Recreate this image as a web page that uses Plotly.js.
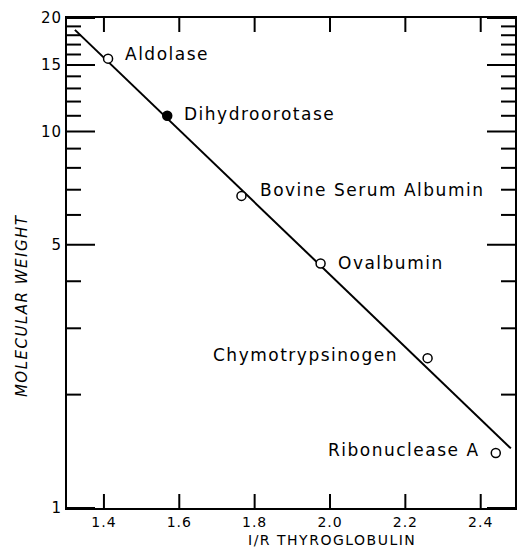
<!DOCTYPE html>
<html>
<head>
<meta charset="utf-8">
<script src="https://cdn.plot.ly/plotly-3.0.1.min.js"></script>
<style>
  html, body { margin: 0; padding: 0; background: #fff; }
  #chart { width: 518px; height: 550px; }
  .annotation-text { letter-spacing: 1.5px; }
  .xtick text, .ytick text { letter-spacing: 1px; }
</style>
</head>
<body>
<div id="chart"></div>
<script>
// Data
const proteins = ["Aldolase", "Dihydroorotase", "Bovine Serum Albumin", "Ovalbumin", "Chymotrypsinogen", "Ribonuclease A"];
const invR = [1.411, 1.568, 1.765, 1.975, 2.259, 2.440];
const molWeight = [15.6, 11.0, 6.74, 4.46, 2.50, 1.40];
const filled = [false, true, false, false, false, false];
const fitX = [1.323, 2.480];
const fitY = [18.6, 1.44];
const xTicks = [1.4, 1.6, 1.8, 2.0, 2.2, 2.4];
const xTickText = ["1.4", "1.6", "1.8", "2.0", "2.2", "2.4"];
const yTicks = [1, 5, 10, 15, 20];
const yTickText = ["1", "5", "10", "15", "20"];
const yMinorTicks = [2, 3, 4, 6, 7, 8, 9, 11, 12, 13, 14, 16, 17, 18, 19];

// label placement (pixel offsets)
const labelSide = ["left", "left", "left", "left", "right", "right"];
const labelDx = [15, 15, 17, 15, -28, -14];
const labelDy = [5, 2, 6, 0, 3, 3];

const font = "DejaVu Sans";
const xRange = [1.302, 2.491];
const yRange = [1, 20];

// inward tick marks drawn as clipped line markers sitting on the frame edges
function tickTrace(xs, ys, symbol, size) {
  return {
    x: xs, y: ys, mode: "markers", type: "scatter", cliponaxis: true,
    marker: { symbol: symbol, size: size, color: "#000", line: { color: "#000", width: 2 } },
    hoverinfo: "skip", showlegend: false
  };
}
const xEdgeTicks = tickTrace(
  xTicks.concat(xTicks),
  xTicks.map(() => yRange[0]).concat(xTicks.map(() => yRange[1])),
  "line-ns-open", 20);
const yMajorEdgeTicks = tickTrace(
  yTicks.map(() => xRange[0]).concat(yTicks.map(() => xRange[1])),
  yTicks.concat(yTicks), "line-ew-open", 40);
const yMinorEdgeTicks = tickTrace(
  yMinorTicks.map(() => xRange[0]).concat(yMinorTicks.map(() => xRange[1])),
  yMinorTicks.concat(yMinorTicks), "line-ew-open", 20);

const traces = [
  xEdgeTicks, yMajorEdgeTicks, yMinorEdgeTicks,
  {
    x: fitX, y: fitY, mode: "lines", type: "scatter",
    line: { color: "#000", width: 2 }, showlegend: false
  },
  {
    x: invR, y: molWeight, mode: "markers", type: "scatter",
    marker: {
      symbol: "circle", size: 9,
      color: filled.map(f => f ? "#000" : "#fff"),
      line: { color: "#000", width: 1.5 }
    },
    showlegend: false
  }
];

const annotations = proteins.map((p, i) => ({
  x: invR[i], y: Math.log10(molWeight[i]), xref: "x", yref: "y",
  text: p, showarrow: false,
  xanchor: labelSide[i], yanchor: "middle",
  xshift: labelDx[i], yshift: labelDy[i],
  font: { family: font, size: 17, color: "#000" }
}));
annotations.push({
  xref: "paper", yref: "paper", x: 0.592, y: 0,
  text: "I/R THYROGLOBULIN", showarrow: false,
  xanchor: "center", yanchor: "middle", yshift: -32,
  font: { family: font, size: 14, color: "#000" }
});
annotations.push({
  xref: "paper", yref: "paper", x: 0, y: 0.412,
  text: "<i>MOLECULAR WEIGHT</i>", showarrow: false, textangle: -90,
  xanchor: "center", yanchor: "middle", xshift: -45,
  font: { family: font, size: 15, color: "#000" }
});

const layout = {
  width: 518, height: 550,
  margin: { l: 67, r: 3, t: 18, b: 42 },
  showlegend: false,
  xaxis: {
    range: xRange,
    tickmode: "array", tickvals: xTicks, ticktext: xTickText,
    ticks: "", showline: true, linewidth: 2, linecolor: "#000", mirror: true,
    showgrid: false, zeroline: false,
    tickfont: { family: font, size: 14, color: "#000" }
  },
  yaxis: {
    type: "log", range: [Math.log10(yRange[0]), Math.log10(yRange[1])],
    tickmode: "array", tickvals: yTicks, ticktext: yTickText,
    ticks: "", showline: true, linewidth: 2, linecolor: "#000", mirror: true,
    showgrid: false, zeroline: false,
    tickfont: { family: font, size: 15, color: "#000" }
  },
  annotations: annotations
};

Plotly.newPlot("chart", traces, layout, { staticPlot: true });
</script>
</body>
</html>
